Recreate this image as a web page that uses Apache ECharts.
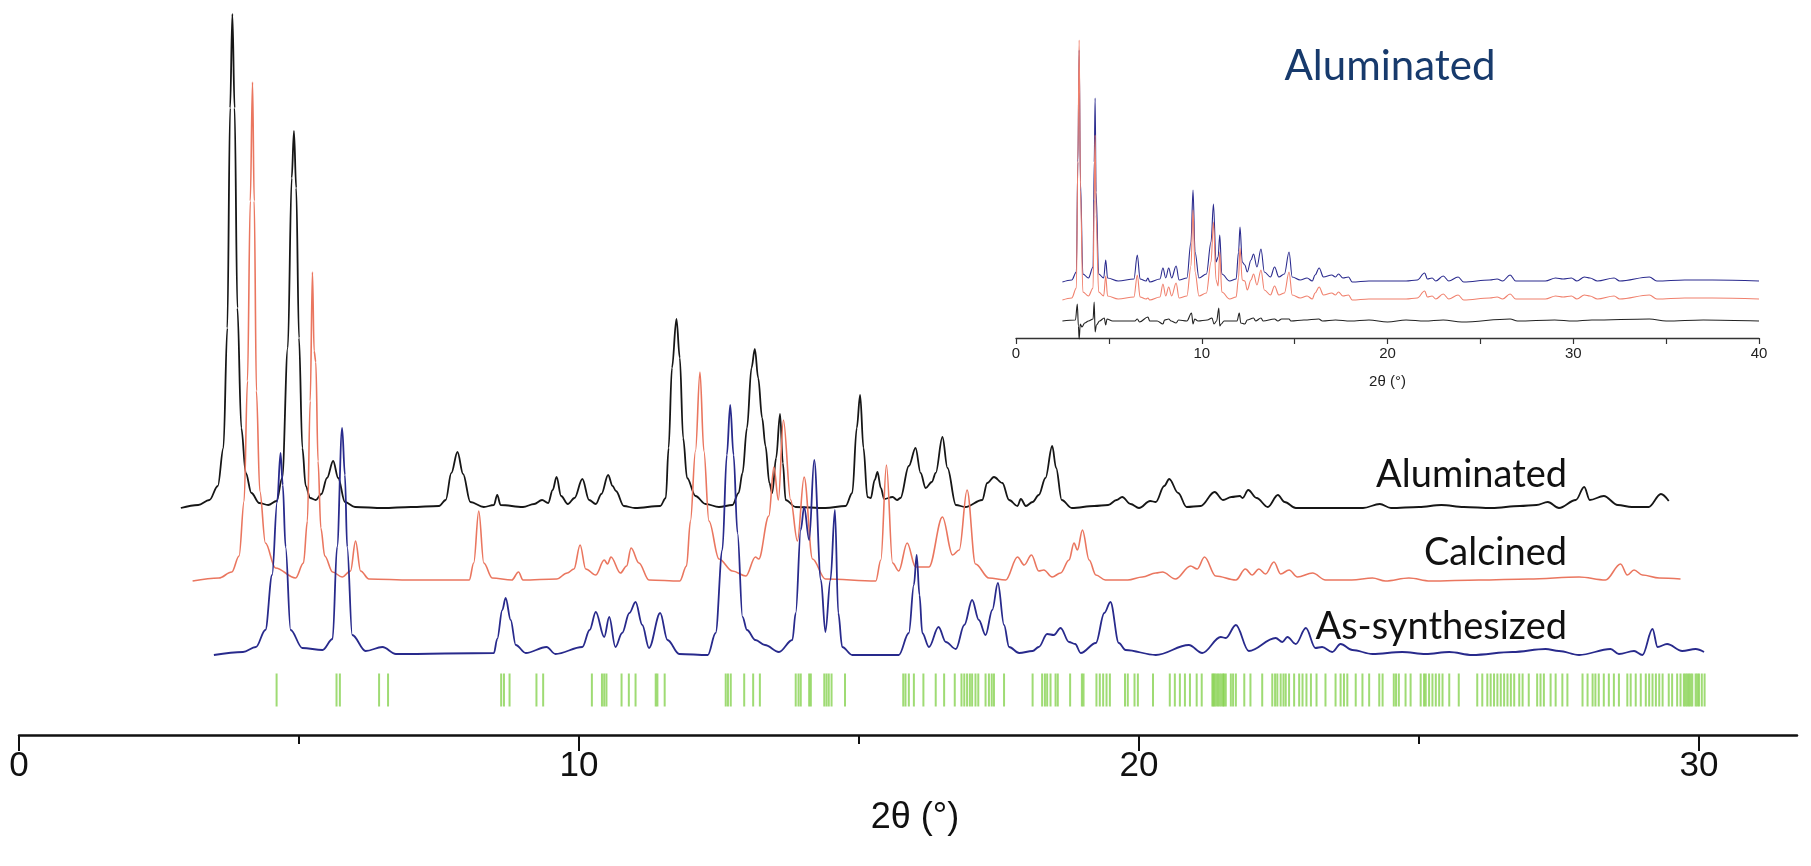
<!DOCTYPE html>
<html>
<head>
<meta charset="utf-8">
<title>Powder X-ray diffraction</title>
<script src="https://cdn.jsdelivr.net/npm/echarts/dist/echarts.min.js"></script>
<style>
  html, body { margin: 0; padding: 0; background: #ffffff; }
  #chart { width: 1811px; height: 866px; }
</style>
</head>
<body>
<div id="chart"></div>
<script>
// ---------------------------------------------------------------
// Main panel: diffraction patterns, [2θ (°), intensity (a.u.)]
// ---------------------------------------------------------------
const aluminated = [
  [2.89,0],[3.2,3],[3.4,8],[3.55,22],[3.65,60],[3.72,180],[3.77,400],[3.81,494],[3.85,400],[3.9,200],
  [3.97,80],[4.05,35],[4.15,15],[4.29,5],[4.45,3],[4.6,7],[4.7,30],[4.8,160],[4.87,330],[4.91,377],
  [4.95,320],[5.0,170],[5.06,60],[5.12,22],[5.2,10],[5.3,8],[5.4,14],[5.5,30],[5.61,47],[5.7,30],
  [5.82,6],[6.0,1],[6.5,0],[7.0,1],[7.5,2],[7.62,8],[7.72,35],[7.83,56],[7.93,34],[8.06,6],
  [8.3,1],[8.48,3],[8.54,13],[8.6,3],[9.0,1],[9.2,4],[9.34,8],[9.45,5],[9.53,18],[9.6,31],
  [9.68,12],[9.8,4],[9.92,10],[10.06,29],[10.18,8],[10.3,4],[10.4,14],[10.52,33],[10.6,22],[10.66,17],
  [10.8,2],[11.0,0],[11.45,2],[11.55,10],[11.6,60],[11.66,140],[11.74,189],[11.8,150],[11.86,70],[11.93,30],
  [12.08,12],[12.26,4],[12.5,1],[12.74,3],[12.85,15],[12.92,35],[13.0,80],[13.08,140],[13.14,159],[13.2,130],
  [13.27,90],[13.33,62],[13.4,25],[13.45,15],[13.52,50],[13.59,94],[13.64,45],[13.69,8],[13.87,1],[14.4,0],
  [14.76,2],[14.88,15],[14.96,80],[15.02,113],[15.08,60],[15.15,11],[15.21,10],[15.28,28],[15.33,36],[15.39,20],
  [15.45,9],[15.6,11],[15.68,8],[15.74,10],[15.89,42],[16.01,60],[16.1,35],[16.19,20],[16.3,26],[16.37,35],
  [16.49,71],[16.58,40],[16.73,3],[16.9,1],[17.2,8],[17.29,25],[17.41,31],[17.56,25],[17.68,8],[17.83,2],
  [17.89,9],[17.98,2],[18.1,6],[18.21,13],[18.33,30],[18.45,62],[18.52,40],[18.62,8],[18.8,0],[19.2,2],
  [19.45,3],[19.6,8],[19.7,11],[19.85,4],[20.0,0],[20.2,7],[20.3,6],[20.45,22],[20.54,29],[20.7,15],
  [20.85,1],[21.1,2],[21.35,16],[21.5,8],[21.65,11],[21.8,12],[21.85,10],[21.95,18],[22.1,10],[22.3,1],
  [22.48,13],[22.6,6],[22.8,0],[23.5,0],[24.0,0],[24.3,4],[24.5,0],[25.0,1],[25.4,3],[25.8,1],
  [26.3,0],[26.8,2],[27.1,3],[27.3,6],[27.5,0],[27.8,8],[27.95,21],[28.05,8],[28.3,12],[28.55,3],
  [28.8,1],[29.1,1],[29.32,14],[29.46,7]
];

const calcined = [
  [3.1,0],[3.57,3],[3.8,9],[3.93,25],[4.02,80],[4.08,200],[4.13,380],[4.17,499],[4.2,380],[4.24,190],
  [4.3,90],[4.4,38],[4.58,13],[4.94,3],[5.08,18],[5.15,60],[5.2,180],[5.24,309],[5.27,230],[5.3,219],
  [5.34,120],[5.39,53],[5.46,25],[5.6,9],[5.77,4],[5.92,10],[6.01,40],[6.1,10],[6.25,2],[7.0,1],
  [8.04,1],[8.12,18],[8.21,70],[8.3,18],[8.45,3],[8.8,1],[8.92,9],[9.0,1],[9.6,2],[9.79,8],
  [9.91,12],[10.02,36],[10.12,12],[10.3,6],[10.45,21],[10.51,17],[10.57,24],[10.74,8],[10.85,15],[10.93,33],
  [11.07,18],[11.25,1],[11.8,0],[11.92,15],[11.99,60],[12.08,130],[12.16,209],[12.23,130],[12.32,60],[12.5,22],
  [12.74,10],[12.98,5],[13.15,24],[13.21,22],[13.39,65],[13.48,114],[13.56,81],[13.65,161],[13.78,81],[13.9,40],
  [14.02,104],[14.17,22],[14.4,2],[15.3,0],[15.39,21],[15.49,116],[15.6,18],[15.71,10],[15.86,38],[16.01,14],
  [16.25,14],[16.49,64],[16.67,26],[16.79,31],[16.93,91],[17.08,17],[17.32,3],[17.62,1],[17.83,24],[17.95,16],
  [18.08,26],[18.21,10],[18.3,11],[18.45,4],[18.6,8],[18.75,21],[18.84,38],[18.9,31],[18.99,51],[19.11,21],
  [19.23,6],[19.4,1],[19.8,1],[20.06,4],[20.3,8],[20.42,9],[20.65,2],[20.92,15],[21.04,12],[21.17,24],
  [21.37,5],[21.73,1],[21.9,12],[22.02,6],[22.14,12],[22.26,7],[22.41,19],[22.53,7],[22.68,11],[22.83,4],
  [23.1,8],[23.33,1],[23.8,1],[24.17,3],[24.4,0],[24.82,3],[25.2,0],[26.07,1],[26.96,2],[27.86,4],
  [28.33,1],[28.6,17],[28.72,6],[28.84,11],[28.99,6],[29.29,3],[29.67,2]
];

const asSynthesized = [
  [3.48,0],[4.0,3],[4.23,8],[4.4,25],[4.52,80],[4.61,153],[4.67,202],[4.71,170],[4.76,108],[4.85,25],
  [5.06,7],[5.42,5],[5.6,16],[5.68,108],[5.77,227],[5.82,180],[5.86,108],[5.95,20],[6.19,4],[6.49,8],
  [6.73,1],[8.48,2],[8.54,16],[8.63,45],[8.69,57],[8.78,35],[8.87,10],[9.05,2],[9.42,8],[9.58,1],
  [10.06,8],[10.19,25],[10.3,43],[10.45,18],[10.54,38],[10.65,8],[10.77,22],[10.9,42],[11.01,53],[11.13,30],
  [11.25,7],[11.45,42],[11.58,15],[11.79,1],[12.3,0],[12.44,22],[12.56,105],[12.64,200],[12.7,250],[12.76,200],
  [12.83,122],[12.92,38],[13.0,25],[13.15,15],[13.32,10],[13.57,3],[13.81,15],[13.87,42],[13.96,125],[14.02,148],
  [14.11,115],[14.2,195],[14.32,75],[14.4,23],[14.49,75],[14.57,145],[14.63,42],[14.7,8],[14.88,0],[15.71,0],
  [15.89,22],[15.98,70],[16.03,100],[16.08,60],[16.13,22],[16.25,8],[16.42,28],[16.55,13],[16.73,6],[16.88,30],
  [17.02,55],[17.14,35],[17.26,20],[17.38,45],[17.48,72],[17.59,30],[17.68,8],[17.86,2],[18.1,4],[18.21,8],
  [18.36,21],[18.48,20],[18.6,27],[18.75,13],[18.86,11],[18.96,2],[19.23,12],[19.38,42],[19.49,53],[19.64,12],
  [19.76,5],[20.3,0],[20.89,10],[21.13,2],[21.46,18],[21.55,17],[21.73,30],[21.96,4],[22.44,17],[22.56,13],
  [22.65,18],[22.8,11],[22.98,27],[23.15,7],[23.27,8],[23.45,3],[23.6,11],[23.81,5],[24.17,1],[24.7,3],
  [25.12,1],[25.54,3],[25.95,0],[26.67,3],[27.26,6],[27.5,4],[27.86,0],[28.42,6],[28.57,1],[28.84,4],
  [28.99,0],[29.17,26],[29.26,8],[29.43,11],[29.7,4],[29.94,6],[30.09,3]
];

// Calculated reflection positions, 2θ (°)
const reflections = [
  4.60, 5.67, 5.73, 6.43, 6.59, 8.61, 8.66, 8.76, 9.24, 9.36, 10.23, 10.41, 10.45, 10.49, 10.76, 10.89,
  11.01, 11.37, 11.40, 11.53, 12.62, 12.66, 12.71, 12.95, 13.11, 13.23, 13.87, 13.92, 13.96, 14.11, 14.14,
  14.38, 14.42, 14.46, 14.51, 14.75, 15.79, 15.83, 15.89, 15.98, 16.15, 16.37, 16.52, 16.71, 16.83, 16.88,
  16.93, 16.98, 17.02, 17.08, 17.13, 17.26, 17.32, 17.37, 17.41, 17.59, 18.10, 18.27, 18.32, 18.36, 18.42,
  18.51, 18.55, 18.77, 18.98, 19.01, 19.24, 19.30, 19.36, 19.42, 19.48, 19.75, 19.80, 19.92, 19.98, 20.25,
  20.55, 20.64, 20.73, 20.82, 20.91, 21.03, 21.12, 21.31, 21.33, 21.35, 21.38, 21.41, 21.44, 21.47, 21.50,
  21.52, 21.55, 21.64, 21.68, 21.73, 21.88, 21.99, 22.20, 22.38, 22.43, 22.47, 22.53, 22.58, 22.62, 22.68,
  22.77, 22.86, 22.92, 22.99, 23.07, 23.17, 23.33, 23.51, 23.60, 23.66, 23.72, 23.87, 23.99, 24.11, 24.29,
  24.35, 24.55, 24.59, 24.64, 24.76, 24.85, 25.03, 25.09, 25.12, 25.18, 25.24, 25.30, 25.36, 25.42, 25.54,
  25.71, 26.04, 26.13, 26.22, 26.28, 26.34, 26.40, 26.46, 26.52, 26.58, 26.64, 26.70, 26.79, 26.85, 26.96,
  27.11, 27.17, 27.23, 27.35, 27.44, 27.56, 27.65, 27.92, 28.01, 28.10, 28.15, 28.21, 28.30, 28.39, 28.48,
  28.57, 28.72, 28.78, 28.87, 28.96, 29.05, 29.11, 29.17, 29.23, 29.29, 29.35, 29.46, 29.52, 29.61, 29.67,
  29.73, 29.76, 29.79, 29.82, 29.85, 29.88, 29.94, 29.97, 30.00, 30.05, 30.10
];

// Ticks of the main 2θ axis
const mainMajorTicks = [0, 10, 20, 30];
const mainMinorTicks = [5, 15, 25];

// ---------------------------------------------------------------
// Inset: Rietveld fit of the aluminated sample
// ---------------------------------------------------------------
const insetObserved = [
  [2.5,0],[3.0,2],[3.25,10],[3.33,120],[3.4,232],[3.47,100],[3.6,8],[3.9,4],[4.15,15],[4.21,120],
  [4.26,184],[4.31,90],[4.45,8],[4.72,4],[4.83,22],[4.93,4],[5.5,1],[6.35,3],[6.53,27],[6.68,3],
  [7.0,1],[7.1,4],[7.2,0],[7.75,3],[7.91,14],[8.06,4],[8.22,14],[8.38,4],[8.62,16],[8.78,2],
  [9.2,4],[9.42,40],[9.53,92],[9.64,30],[9.85,4],[10.25,8],[10.5,40],[10.63,78],[10.77,20],[10.88,25],
  [10.97,47],[11.08,8],[11.5,1],[11.85,3],[11.98,30],[12.06,55],[12.18,20],[12.32,17],[12.45,10],[12.65,22],
  [12.79,28],[12.97,15],[13.19,33],[13.37,10],[13.7,5],[13.92,15],[14.15,5],[14.45,8],[14.7,30],[14.87,5],
  [15.3,2],[15.67,4],[15.95,1],[16.1,7],[16.32,14],[16.55,5],[17.0,7],[17.2,5],[17.36,8],[17.6,4],
  [17.9,5],[18.1,0],[19.0,1],[20.0,1],[21.0,1],[21.6,2],[22.0,9],[22.15,3],[22.4,4],[22.6,1],
  [23.0,6],[23.3,1],[23.8,5],[24.1,0],[25.5,2],[25.9,3],[26.2,1],[26.6,7],[26.9,1],[28.5,1],
  [29.05,4],[29.45,3],[29.9,4],[30.2,1],[30.6,5],[30.9,4],[31.3,1],[32.2,4],[32.5,1],[34.1,5],
  [34.5,1],[36.0,2],[37.5,2],[40.0,1]
];

const insetCalculated = [
  [2.5,0],[3.0,2],[3.25,12],[3.33,140],[3.4,260],[3.47,110],[3.6,8],[3.9,4],[4.15,12],[4.21,100],
  [4.26,165],[4.31,85],[4.45,8],[4.72,4],[4.83,24],[4.93,4],[5.5,1],[6.35,3],[6.53,25],[6.68,3],
  [7.0,1],[7.1,2],[7.2,0],[7.75,3],[7.91,16],[8.06,4],[8.22,13],[8.38,4],[8.62,17],[8.78,2],
  [9.2,4],[9.42,34],[9.53,90],[9.64,28],[9.85,4],[10.25,7],[10.5,38],[10.63,78],[10.77,20],[10.88,14],
  [10.97,48],[11.08,8],[11.5,1],[11.85,3],[11.98,22],[12.06,52],[12.18,20],[12.32,19],[12.45,10],[12.65,20],
  [12.79,26],[12.97,15],[13.19,30],[13.37,10],[13.7,5],[13.92,14],[14.15,5],[14.45,7],[14.7,28],[14.87,5],
  [15.3,2],[15.67,4],[15.95,1],[16.1,7],[16.32,13],[16.55,5],[17.0,7],[17.2,5],[17.36,8],[17.6,4],
  [17.9,5],[18.1,0],[19.0,1],[20.0,1],[21.0,1],[21.6,2],[22.0,9],[22.15,3],[22.4,4],[22.6,1],
  [23.0,6],[23.3,1],[23.8,5],[24.1,0],[25.5,2],[25.9,3],[26.2,1],[26.6,6],[26.9,1],[28.5,1],
  [29.05,4],[29.45,3],[29.9,4],[30.2,1],[30.6,5],[30.9,4],[31.3,1],[32.2,4],[32.5,1],[34.1,5],
  [34.5,1],[36.0,2],[37.5,2],[40.0,1]
];

const insetDifference = [
  [2.5,0],[3.2,1],[3.3,17],[3.36,-5],[3.4,-18],[3.46,-3],[3.55,-6],[3.7,-2],[3.9,0],[4.15,2],
  [4.21,19],[4.26,-11],[4.33,-4],[4.5,0],[4.75,3],[4.83,-4],[4.9,2],[5.2,0],[6.4,0],[6.53,2],
  [6.65,-1],[7.1,4],[7.2,0],[7.6,0],[7.91,-3],[8.0,1],[8.22,2],[8.35,0],[8.62,-2],[8.75,1],
  [9.2,0],[9.45,8],[9.53,-3],[9.62,2],[9.8,0],[10.3,1],[10.55,3],[10.66,-3],[10.8,0],[10.92,13],
  [10.97,-5],[11.05,-3],[11.2,0],[11.9,0],[12.02,8],[12.1,-2],[12.32,-3],[12.45,1],[12.79,3],[12.9,0],
  [13.19,3],[13.3,0],[13.92,2],[14.1,0],[14.3,2],[14.7,2],[14.8,0],[15.5,1],[16.3,2],[16.5,0],
  [17.2,1],[18.0,0],[19.0,1],[20.0,-1],[21.0,1],[22.0,0],[23.0,1],[24.0,-1],[26.6,2],[27.0,0],
  [29.0,1],[30.0,0],[31.0,1],[34.1,2],[35.0,0],[37.0,1],[40.0,0]
];

// Labelled ticks of the inset 2θ axis
const insetLabelTicks = [0, 10, 20, 30, 40];

// ---------------------------------------------------------------
// Vertical stacking of the patterns (in y-axis units)
// ---------------------------------------------------------------
const STACK = { aluminated: 227, calcined: 154, asSynthesized: 80 };
const INSET_STACK = { observed: 56, calculated: 38, difference: 17 };
const REFLECTION_ROW = 45;

const lift = (pts, off) => pts.map(p => [p[0], p[1] + off]);

const AXIS_FONT = "'Liberation Sans', Arial, Helvetica, sans-serif";
const LABEL_FONT = "Lato, 'Open Sans', sans-serif";

const lineSeries = (name, data, color, width, xi, yi) => ({
  name, type: 'line', data, xAxisIndex: xi, yAxisIndex: yi,
  showSymbol: false, smooth: 0.35, smoothMonotone: 'x', clip: false,
  lineStyle: { color, width }, silent: true
});

const MAIN_MAX = 31.75;

const chart = echarts.init(document.getElementById('chart'), null, { renderer: 'canvas' });

chart.setOption({
  animation: false,
  backgroundColor: '#ffffff',
  grid: [
    { left: 19, width: 1778, top: 0, bottom: 131 },
    { left: 1016, width: 743, top: 38, height: 300 }
  ],
  xAxis: [
    {
      // main axis: line, long ticks and labels
      gridIndex: 0, type: 'value', min: 0, max: MAIN_MAX, interval: 10, position: 'bottom',
      axisLine: { show: true, onZero: false, lineStyle: { color: '#111', width: 2.5 } },
      axisTick: { show: true, length: 16, customValues: mainMajorTicks, lineStyle: { color: '#111', width: 2 } },
      axisLabel: {
        margin: 14, fontFamily: AXIS_FONT, fontSize: 35, color: '#111',
        customValues: mainMajorTicks
      },
      splitLine: { show: false }
    },
    {
      // main axis: short intermediate ticks
      gridIndex: 0, type: 'value', min: 0, max: MAIN_MAX, interval: 5, position: 'bottom', offset: 0,
      axisLine: { show: false, onZero: false },
      axisTick: { show: true, length: 9, customValues: mainMinorTicks, lineStyle: { color: '#111', width: 2 } },
      axisLabel: { show: false },
      splitLine: { show: false }
    },
    {
      gridIndex: 1, type: 'value', min: 0, max: 40, interval: 5,
      name: '2θ (°)', nameLocation: 'middle', nameGap: 36,
      nameTextStyle: { fontFamily: AXIS_FONT, fontSize: 15, color: '#222' },
      axisLine: { show: true, onZero: false, lineStyle: { color: '#333', width: 1.3 } },
      axisTick: { show: true, length: 6, lineStyle: { color: '#333', width: 1.2 } },
      axisLabel: {
        margin: 8, fontFamily: AXIS_FONT, fontSize: 15, color: '#222',
        formatter: v => (insetLabelTicks.indexOf(v) >= 0 ? String(v) : '')
      },
      splitLine: { show: false }
    }
  ],
  yAxis: [
    { gridIndex: 0, type: 'value', min: 0, max: 735, show: false },
    { gridIndex: 1, type: 'value', min: 0, max: 300, show: false }
  ],
  series: [
    lineSeries('Aluminated', lift(aluminated, STACK.aluminated), '#161616', 1.8, 0, 0),
    lineSeries('Calcined', lift(calcined, STACK.calcined), '#ea765f', 1.6, 0, 0),
    lineSeries('As-synthesized', lift(asSynthesized, STACK.asSynthesized), '#282a8c', 1.8, 0, 0),
    {
      name: 'Reflections', type: 'scatter', xAxisIndex: 0, yAxisIndex: 0, silent: true,
      data: reflections.map(x => [x, REFLECTION_ROW]),
      symbol: 'rect', symbolSize: [2, 33],
      itemStyle: { color: '#7fcf45', opacity: 0.75 }
    },
    lineSeries('Observed', lift(insetObserved, INSET_STACK.observed), '#2a2a8e', 1.1, 2, 1),
    lineSeries('Calculated', lift(insetCalculated, INSET_STACK.calculated), '#f0806d', 1.1, 2, 1),
    lineSeries('Difference', lift(insetDifference, INSET_STACK.difference), '#222222', 1.1, 2, 1)
  ],
  graphic: [
    { type: 'text', x: 1567, y: 475, silent: true,
      style: { text: 'Aluminated', font: '38px ' + LABEL_FONT, fill: '#111', align: 'right', verticalAlign: 'middle' } },
    { type: 'text', x: 1567, y: 553, silent: true,
      style: { text: 'Calcined', font: '38px ' + LABEL_FONT, fill: '#111', align: 'right', verticalAlign: 'middle' } },
    { type: 'text', x: 1567, y: 627, silent: true,
      style: { text: 'As-synthesized', font: '38px ' + LABEL_FONT, fill: '#111', align: 'right', verticalAlign: 'middle' } },
    { type: 'text', x: 1390, y: 66, silent: true,
      style: { text: 'Aluminated', font: '42px ' + LABEL_FONT, fill: '#173a6c', align: 'center', verticalAlign: 'middle' } },
    // main axis title, centred under 2θ = 16°
    { type: 'text', x: 915, y: 818, silent: true,
      style: { text: '2θ (°)', font: '36px ' + AXIS_FONT, fill: '#111', align: 'center', verticalAlign: 'middle' } }
  ]
});
</script>
</body>
</html>
